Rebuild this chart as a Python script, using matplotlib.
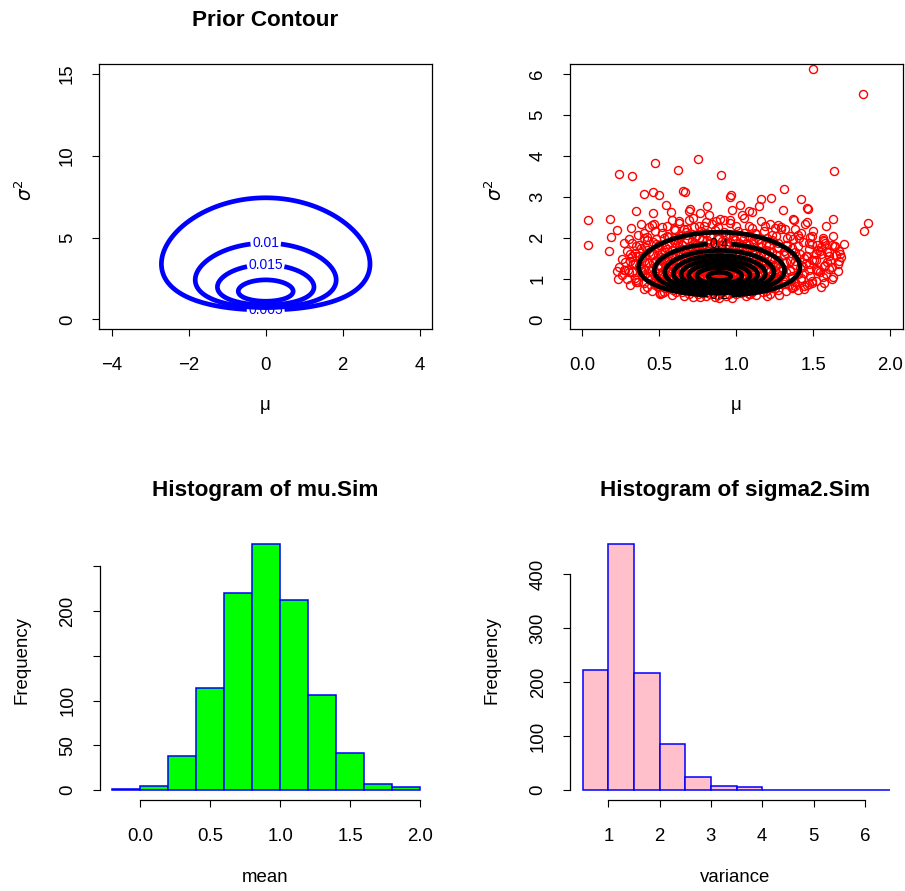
import numpy as np
import matplotlib
matplotlib.use("Agg")
import matplotlib.pyplot as plt
from math import lgamma

plt.rcParams["font.family"] = ["Liberation Sans", "DejaVu Sans"]
plt.rcParams["mathtext.fontset"] = "dejavusans"

# ---------------- data ----------------
# prior (normal-inverse-gamma) parameters
prior_mu0, prior_kappa0, prior_a0, prior_b0 = 0.0, 1.0, 0.55, 3.28
prior_levels = [0.005, 0.01, 0.015, 0.02]
prior_labelled = [0.005, 0.01, 0.015]

# posterior parameters
post_mun, post_kappan, post_an, post_bn = 0.89, 18.0, 9.0, 10.98
post_levels = [0.2, 0.4, 0.6, 0.8, 1.0, 1.2, 1.4, 1.6]

# simulated draws: outer (clearly readable) points
mu_outer = [0.474, 0.236, 0.323, 0.398, 0.457, 0.496, 0.351, 0.457, 0.037, 0.180, 0.227, 0.184,
            0.037, 0.171, 0.316, 0.268, 0.301, 0.383, 0.435, 0.466, 0.398, 0.225, 0.234, 0.294,
            0.349, 0.502, 0.323, 0.344,
            0.749, 0.619, 0.903, 0.654, 0.669, 0.968, 0.961, 0.545, 0.576, 0.697, 0.693, 0.810,
            0.762, 0.820, 1.021, 0.972, 1.037, 0.896, 0.870, 0.626, 0.690, 0.723, 0.658, 0.550,
            0.593, 0.788, 0.961, 1.080,
            1.632, 1.312, 1.225, 1.162, 1.420, 1.301, 1.461, 1.145, 1.102, 1.626, 1.582, 1.372,
            1.448, 1.249, 1.318, 1.492, 1.567, 1.188, 1.080, 1.123, 1.383, 1.405, 1.632,
            1.853, 1.831, 1.463, 1.578, 1.643, 1.665, 1.675, 1.665, 1.545, 1.600, 1.578, 1.524,
            1.492, 1.437, 1.502, 1.459, 1.524, 1.36, 1.40,
            1.50, 1.82, 0.506, 0.766, 0.885, 1.20, 1.08]
sigma2_outer = [3.82, 3.56, 3.51, 3.07, 3.12, 3.04, 2.64, 2.59, 2.42, 2.46, 2.18, 2.02,
                1.81, 1.67, 2.24, 1.87, 1.97, 2.33, 2.26, 2.34, 2.11, 1.18, 0.98, 1.22,
                0.91, 0.65, 1.54, 1.38,
                3.93, 3.66, 3.52, 3.15, 3.11, 3.04, 2.98, 2.80, 2.62, 2.70, 2.64, 2.77,
                2.60, 2.54, 2.80, 2.68, 2.55, 2.46, 2.40, 2.40, 2.44, 2.26, 2.20, 2.28,
                2.20, 2.28, 2.44, 2.64,
                3.63, 3.18, 2.96, 2.94, 2.95, 2.67, 2.72, 2.78, 2.62, 2.46, 2.28, 2.44,
                2.34, 2.23, 2.20, 2.05, 1.91, 2.28, 2.28, 2.11, 2.20, 1.99, 1.79,
                2.36, 2.15, 2.71, 1.87, 1.80, 1.67, 1.59, 1.42, 1.67, 1.54, 1.34, 1.22,
                0.88, 0.81, 1.46, 1.54, 1.83, 0.78, 0.72,
                6.13, 5.51, 0.61, 0.55, 0.53, 0.57, 0.61]

# simulated draws: dense core (estimated from the cloud)
mu_core = [
    0.52, 0.58, 0.61, 0.66, 0.69, 0.72, 0.75, 0.78, 0.80, 0.83, 0.86, 0.88, 0.90, 0.93, 0.95, 0.97, 1.00, 1.03, 1.06, 1.09, 1.13, 1.17, 1.22, 1.28,
    0.40, 0.45, 0.49, 0.53, 0.56, 0.59, 0.62, 0.65, 0.67, 0.70, 0.72, 0.74, 0.77, 0.79, 0.81, 0.83, 0.85, 0.87, 0.89, 0.91, 0.93, 0.95, 0.97, 0.99, 1.02, 1.04, 1.07, 1.10, 1.13, 1.16, 1.19, 1.23, 1.27, 1.32, 1.37, 1.44,
    0.31, 0.36, 0.40, 0.44, 0.47, 0.50, 0.53, 0.55, 0.58, 0.60, 0.62, 0.64, 0.66, 0.68, 0.70, 0.72, 0.74, 0.76, 0.78, 0.79, 0.81, 0.83, 0.84, 0.86, 0.88, 0.89, 0.91, 0.93, 0.94, 0.96, 0.98, 1.00, 1.02, 1.04, 1.06, 1.08, 1.10, 1.13, 1.15, 1.18, 1.21, 1.24, 1.27, 1.30, 1.34, 1.38, 1.42, 1.47, 1.52, 1.57,
    0.26, 0.30, 0.34, 0.38, 0.41, 0.44, 0.47, 0.50, 0.52, 0.55, 0.57, 0.59, 0.61, 0.63, 0.65, 0.67, 0.69, 0.71, 0.73, 0.75, 0.77, 0.78, 0.80, 0.82, 0.83, 0.85, 0.87, 0.88, 0.90, 0.91, 0.93, 0.95, 0.96, 0.98, 1.00, 1.02, 1.04, 1.06, 1.08, 1.10, 1.12, 1.15, 1.17, 1.20, 1.23, 1.26, 1.29, 1.32, 1.36, 1.40, 1.44, 1.48, 1.53, 1.58, 1.63,
    0.24, 0.28, 0.33, 0.37, 0.40, 0.43, 0.46, 0.49, 0.51, 0.54, 0.56, 0.58, 0.60, 0.62, 0.64, 0.66, 0.68, 0.70, 0.72, 0.74, 0.76, 0.78, 0.79, 0.81, 0.83, 0.85, 0.86, 0.88, 0.89, 0.91, 0.93, 0.94, 0.96, 0.98, 1.00, 1.01, 1.03, 1.05, 1.07, 1.09, 1.11, 1.14, 1.16, 1.19, 1.22, 1.25, 1.28, 1.31, 1.35, 1.39, 1.43, 1.47, 1.52, 1.57, 1.62,
    0.26, 0.31, 0.35, 0.39, 0.42, 0.45, 0.48, 0.51, 0.53, 0.56, 0.58, 0.60, 0.62, 0.64, 0.66, 0.68, 0.70, 0.72, 0.74, 0.76, 0.78, 0.80, 0.82, 0.84, 0.86, 0.88, 0.90, 0.92, 0.94, 0.96, 0.98, 1.00, 1.02, 1.04, 1.06, 1.08, 1.11, 1.14, 1.17, 1.20, 1.23, 1.27, 1.31, 1.35, 1.39, 1.44, 1.49, 1.55, 1.61, 1.68,
    0.29, 0.34, 0.38, 0.42, 0.46, 0.49, 0.52, 0.55, 0.58, 0.60, 0.63, 0.65, 0.67, 0.70, 0.72, 0.74, 0.77, 0.79, 0.81, 0.83, 0.86, 0.88, 0.90, 0.92, 0.95, 0.97, 0.99, 1.02, 1.04, 1.07, 1.10, 1.13, 1.16, 1.19, 1.23, 1.27, 1.31, 1.36, 1.41, 1.47, 1.53, 1.60,
    0.32, 0.37, 0.42, 0.46, 0.50, 0.53, 0.56, 0.59, 0.62, 0.65, 0.68, 0.71, 0.73, 0.76, 0.78, 0.81, 0.83, 0.86, 0.88, 0.91, 0.93, 0.96, 0.99, 1.02, 1.05, 1.08, 1.11, 1.15, 1.19, 1.23, 1.27, 1.32, 1.37, 1.43, 1.49, 1.56,
    0.36, 0.42, 0.47, 0.52, 0.56, 0.60, 0.64, 0.67, 0.71, 0.74, 0.77, 0.80, 0.83, 0.86, 0.89, 0.92, 0.95, 0.98, 1.01, 1.05, 1.09, 1.13, 1.18, 1.23, 1.29, 1.35, 1.42, 1.50,
    0.45, 0.52, 0.58, 0.63, 0.68, 0.72, 0.76, 0.80, 0.84, 0.88, 0.92, 0.96, 1.00, 1.05, 1.10, 1.16, 1.22, 1.29, 1.37, 1.46,
]
sigma2_core = [
    0.64, 0.60, 0.66, 0.58, 0.63, 0.55, 0.61, 0.65, 0.57, 0.62, 0.54, 0.60, 0.64, 0.58, 0.62, 0.53, 0.61, 0.65, 0.57, 0.63, 0.60, 0.66, 0.62, 0.59,
    0.74, 0.70, 0.79, 0.68, 0.76, 0.72, 0.80, 0.67, 0.75, 0.71, 0.78, 0.69, 0.74, 0.81, 0.68, 0.73, 0.77, 0.70, 0.79, 0.67, 0.75, 0.72, 0.80, 0.69, 0.76, 0.71, 0.78, 0.68, 0.74, 0.81, 0.70, 0.77, 0.73, 0.69, 0.79, 0.75,
    0.85, 0.92, 0.88, 0.97, 0.83, 0.95, 0.90, 0.86, 0.99, 0.93, 0.84, 0.91, 0.96, 0.87, 0.94, 0.89, 0.98, 0.85, 0.92, 0.88, 0.97, 0.83, 0.95, 0.90, 0.86, 0.99, 0.93, 0.84, 0.91, 0.96, 0.87, 0.94, 0.89, 0.98, 0.85, 0.92, 0.88, 0.97, 0.83, 0.95, 0.90, 0.86, 0.99, 0.93, 0.84, 0.91, 0.96, 0.87, 0.94, 0.89,
    1.08, 1.15, 1.02, 1.19, 1.11, 1.05, 1.17, 1.01, 1.13, 1.09, 1.18, 1.04, 1.14, 1.07, 1.20, 1.03, 1.12, 1.16, 1.06, 1.10, 1.19, 1.01, 1.14, 1.08, 1.17, 1.05, 1.11, 1.02, 1.15, 1.09, 1.19, 1.04, 1.13, 1.07, 1.16, 1.01, 1.10, 1.18, 1.06, 1.12, 1.03, 1.15, 1.09, 1.20, 1.05, 1.13, 1.08, 1.17, 1.02, 1.11, 1.14, 1.06, 1.18, 1.10, 1.04,
    1.27, 1.22, 1.35, 1.30, 1.21, 1.38, 1.25, 1.33, 1.29, 1.23, 1.36, 1.31, 1.26, 1.39, 1.22, 1.34, 1.28, 1.24, 1.37, 1.32, 1.21, 1.29, 1.35, 1.26, 1.40, 1.23, 1.31, 1.37, 1.25, 1.33, 1.28, 1.22, 1.36, 1.30, 1.24, 1.38, 1.27, 1.34, 1.21, 1.32, 1.29, 1.25, 1.37, 1.23, 1.35, 1.30, 1.26, 1.39, 1.22, 1.33, 1.28, 1.36, 1.24, 1.31, 1.27,
    1.47, 1.42, 1.55, 1.50, 1.41, 1.58, 1.45, 1.53, 1.49, 1.43, 1.56, 1.51, 1.46, 1.59, 1.42, 1.54, 1.48, 1.44, 1.57, 1.52, 1.41, 1.49, 1.55, 1.46, 1.60, 1.43, 1.51, 1.57, 1.45, 1.53, 1.48, 1.42, 1.56, 1.50, 1.44, 1.58, 1.47, 1.54, 1.41, 1.52, 1.49, 1.45, 1.57, 1.43, 1.55, 1.50, 1.46, 1.59, 1.42, 1.53,
    1.67, 1.62, 1.75, 1.70, 1.61, 1.78, 1.65, 1.73, 1.69, 1.63, 1.76, 1.71, 1.66, 1.79, 1.62, 1.74, 1.68, 1.64, 1.77, 1.72, 1.61, 1.69, 1.75, 1.66, 1.80, 1.63, 1.71, 1.77, 1.65, 1.73, 1.68, 1.62, 1.76, 1.70, 1.64, 1.78, 1.67, 1.74, 1.61, 1.72, 1.69, 1.65,
    1.87, 1.82, 1.95, 1.90, 1.81, 1.98, 1.85, 1.93, 1.89, 1.83, 1.96, 1.91, 1.86, 1.99, 1.82, 1.94, 1.88, 1.84, 1.97, 1.92, 1.81, 1.89, 1.95, 1.86, 2.00, 1.83, 1.91, 1.97, 1.85, 1.93, 1.88, 1.82, 1.96, 1.90, 1.84, 1.98,
    2.07, 2.02, 2.15, 2.10, 2.01, 2.18, 2.05, 2.13, 2.09, 2.03, 2.16, 2.11, 2.06, 2.19, 2.02, 2.14, 2.08, 2.04, 2.17, 2.12, 2.01, 2.09, 2.15, 2.06, 2.20, 2.03, 2.11, 2.17,
    2.31, 2.25, 2.42, 2.36, 2.22, 2.47, 2.29, 2.39, 2.33, 2.26, 2.44, 2.35, 2.28, 2.49, 2.23, 2.40, 2.32, 2.27, 2.45, 2.37,
]

# simulated draws: additional points filling the cloud between the rows above
mu_fill = [
    0.42, 0.48, 0.54, 0.60, 0.64, 0.68, 0.71, 0.74, 0.77, 0.80, 0.82, 0.84, 0.86, 0.88, 0.90, 0.92, 0.94, 0.96, 0.98, 1.01, 1.04, 1.07, 1.11, 1.15, 1.20, 1.25, 1.31, 1.38, 1.46, 1.55,
    0.29, 0.35, 0.42, 0.48, 0.53, 0.57, 0.61, 0.64, 0.67, 0.70, 0.73, 0.76, 0.79, 0.81, 0.84, 0.86, 0.89, 0.92, 0.94, 0.97, 0.99, 1.02, 1.05, 1.08, 1.11, 1.14, 1.18, 1.22, 1.26, 1.31, 1.36, 1.42, 1.49, 1.56, 1.62,
    0.27, 0.32, 0.38, 0.44, 0.49, 0.54, 0.58, 0.62, 0.66, 0.69, 0.72, 0.75, 0.78, 0.81, 0.84, 0.87, 0.90, 0.92, 0.95, 0.98, 1.01, 1.04, 1.07, 1.10, 1.13, 1.17, 1.21, 1.25, 1.30, 1.35, 1.41, 1.47, 1.54, 1.60, 1.66,
    0.28, 0.34, 0.40, 0.46, 0.51, 0.55, 0.59, 0.63, 0.67, 0.71, 0.74, 0.77, 0.80, 0.83, 0.86, 0.89, 0.92, 0.95, 0.98, 1.01, 1.04, 1.07, 1.10, 1.14, 1.18, 1.22, 1.27, 1.32, 1.38, 1.45, 1.52, 1.59, 1.66,
    0.31, 0.37, 0.43, 0.49, 0.54, 0.59, 0.63, 0.67, 0.71, 0.75, 0.78, 0.82, 0.85, 0.88, 0.91, 0.94, 0.97, 1.00, 1.04, 1.08, 1.12, 1.16, 1.21, 1.26, 1.32, 1.38, 1.45, 1.52, 1.59, 1.65,
    0.35, 0.41, 0.48, 0.54, 0.60, 0.65, 0.70, 0.74, 0.78, 0.82, 0.86, 0.90, 0.94, 0.98, 1.02, 1.06, 1.11, 1.16, 1.21, 1.27, 1.33, 1.40, 1.47, 1.55, 1.62, 1.70,
    0.40, 0.48, 0.55, 0.62, 0.68, 0.73, 0.78, 0.83, 0.88, 0.93, 0.98, 1.03, 1.08, 1.14, 1.20, 1.26, 1.33, 1.40, 1.48, 1.56, 1.63, 1.27,
]
sigma2_fill = [
    0.80, 0.86, 0.78, 0.84, 0.88, 0.79, 0.83, 0.87, 0.77, 0.82, 0.86, 0.80, 0.85, 0.78, 0.88, 0.81, 0.84, 0.79, 0.87, 0.82, 0.76, 0.85, 0.80, 0.88, 0.83, 0.78, 0.86, 0.81, 0.84, 0.79,
    1.00, 0.96, 1.04, 0.98, 1.06, 1.01, 0.95, 1.03, 0.99, 1.07, 0.97, 1.02, 1.05, 0.96, 1.00, 1.04, 0.98, 1.06, 1.01, 0.95, 1.03, 0.99, 1.07, 0.97, 1.02, 1.05, 0.96, 1.00, 1.04, 0.98, 1.06, 1.01, 0.95, 1.03, 0.99,
    1.20, 1.16, 1.24, 1.18, 1.26, 1.21, 1.15, 1.23, 1.19, 1.27, 1.17, 1.22, 1.25, 1.16, 1.20, 1.24, 1.18, 1.26, 1.21, 1.15, 1.23, 1.19, 1.27, 1.17, 1.22, 1.25, 1.16, 1.20, 1.24, 1.18, 1.26, 1.21, 1.15, 1.23, 1.19,
    1.40, 1.36, 1.44, 1.38, 1.46, 1.41, 1.35, 1.43, 1.39, 1.47, 1.37, 1.42, 1.45, 1.36, 1.40, 1.44, 1.38, 1.46, 1.41, 1.35, 1.43, 1.39, 1.47, 1.37, 1.42, 1.45, 1.36, 1.40, 1.44, 1.38, 1.46, 1.41, 1.35,
    1.60, 1.56, 1.64, 1.58, 1.66, 1.61, 1.55, 1.63, 1.59, 1.67, 1.57, 1.62, 1.65, 1.56, 1.60, 1.64, 1.58, 1.66, 1.61, 1.55, 1.63, 1.59, 1.67, 1.57, 1.62, 1.65, 1.56, 1.60, 1.64, 1.58,
    1.80, 1.76, 1.84, 1.78, 1.86, 1.81, 1.75, 1.83, 1.79, 1.87, 1.77, 1.82, 1.85, 1.76, 1.80, 1.84, 1.78, 1.86, 1.81, 1.75, 1.83, 1.79, 1.87, 1.77, 1.82, 1.85,
    2.00, 1.96, 2.04, 1.98, 2.06, 2.01, 1.95, 2.03, 1.99, 2.07, 1.97, 2.02, 2.05, 1.96, 2.00, 2.04, 1.98, 2.06, 2.01, 1.95, 2.03, 2.30,
]

# histogram of mu.Sim
mu_breaks = [-0.2, 0.0, 0.2, 0.4, 0.6, 0.8, 1.0, 1.2, 1.4, 1.6, 1.8, 2.0]
mu_counts = [1, 5, 38, 114, 220, 275, 212, 106, 41, 7, 3]

# histogram of sigma2.Sim
s2_breaks = [0.5, 1.0, 1.5, 2.0, 2.5, 3.0, 3.5, 4.0, 4.5, 5.0, 5.5, 6.0, 6.5]
s2_counts = [222, 456, 216, 86, 25, 7, 6, 0, 0, 0, 1, 1]

# ---------------- helpers ----------------
W, H = 905, 891
BASE = 13.4
TITLE = 16.2
fig = plt.figure(figsize=(W / 100, H / 100), dpi=100)


def px_axes(x0, y0, x1, y1):
    return fig.add_axes([x0 / W, 1 - y1 / H, (x1 - x0) / W, (y1 - y0) / H])


def ftext(x, y, s, **kw):
    fig.text(x / W, 1 - y / H, s, ha="center", va="center", **kw)


def nig_pdf(mu, s2, m, kappa, a, b):
    logp = (0.5 * np.log(kappa / (2 * np.pi * s2)) - kappa * (mu - m) ** 2 / (2 * s2)
            + a * np.log(b) - lgamma(a) - (a + 1) * np.log(s2) - b / s2)
    return np.exp(logp)


def style(ax, box=True):
    ax.tick_params(direction="out", length=5, width=0.8, labelsize=BASE, colors="black")
    ax.tick_params(axis="x", pad=15)
    ax.tick_params(axis="y", pad=12, labelrotation=90)
    for lab in ax.get_yticklabels():
        lab.set_va("center")
    for sp in ax.spines.values():
        sp.set_linewidth(0.9)
    if not box:
        ax.spines["top"].set_visible(False)
        ax.spines["right"].set_visible(False)


fmt = lambda v: f"{v:g}"

# ---------------- top-left: prior contour ----------------
ax1 = px_axes(99.4, 64, 432, 329.3)
mg = np.linspace(-4, 4, 401)
sg = np.linspace(0.02, 15, 700)
M, S = np.meshgrid(mg, sg)
Z = nig_pdf(M, S, prior_mu0, prior_kappa0, prior_a0, prior_b0)
cs1 = ax1.contour(M, S, Z, levels=prior_levels, colors="blue", linewidths=3.4)
ax1.clabel(cs1, prior_labelled, fmt=fmt, fontsize=10, inline=True, inline_spacing=3,
           manual=[(0.0, 0.45), (0.0, 4.7), (0.0, 3.2)])
ax1.set_xlim(-4.32, 4.32)
ax1.set_ylim(-0.6, 15.6)
ax1.set_xticks([-4, -2, 0, 2, 4])
ax1.set_xticklabels(["\u22124", "\u22122", "0", "2", "4"])
ax1.set_yticks([0, 5, 10, 15])
style(ax1)

# ---------------- top-right: posterior draws + contour ----------------
ax2 = px_axes(570, 64, 902.7, 329.3)
for mus, s2s in ((mu_core, sigma2_core), (mu_fill, sigma2_fill), (mu_outer, sigma2_outer)):
    ax2.plot(mus, s2s, "o", mfc="none", mec="red", ms=5.8, mew=1.0, ls="none")
mg2 = np.linspace(0, 2, 401)
sg2 = np.linspace(0.02, 6, 600)
M2, S2 = np.meshgrid(mg2, sg2)
Z2 = nig_pdf(M2, S2, post_mun, post_kappan, post_an, post_bn)
cs2 = ax2.contour(M2, S2, Z2, levels=post_levels, colors="black", linewidths=3.4)
ax2.clabel(cs2, [0.2, 0.4], fmt=fmt, fontsize=10, inline=True, inline_spacing=3,
           manual=[(0.89, 0.57), (0.89, 1.85)])
ax2.set_xlim(-0.08, 2.08)
ax2.set_ylim(-0.24, 6.24)
ax2.set_xticks([0, 0.5, 1.0, 1.5, 2.0])
ax2.set_xticklabels(["0.0", "0.5", "1.0", "1.5", "2.0"])
ax2.set_yticks([0, 1, 2, 3, 4, 5, 6])
style(ax2)

# ---------------- bottom-left: histogram of mu.Sim ----------------
ax3 = px_axes(100, 534, 432.3, 800)
ax3.bar(mu_breaks[:-1], mu_counts, width=np.diff(mu_breaks), align="edge",
        color="#00FF00", edgecolor="blue", linewidth=1.1)
ax3.set_xlim(-0.288, 2.088)
ax3.set_ylim(-11, 286)
ax3.set_xticks([0, 0.5, 1.0, 1.5, 2.0])
ax3.set_xticklabels(["0.0", "0.5", "1.0", "1.5", "2.0"])
ax3.set_yticks([0, 50, 100, 150, 200, 250])
ax3.set_yticklabels(["0", "50", "100", "", "200", ""])
style(ax3, box=False)
ax3.spines["left"].set_bounds(0, 250)
ax3.spines["bottom"].set_bounds(0, 2)

# ---------------- bottom-right: histogram of sigma2.Sim ----------------
ax4 = px_axes(570.3, 534, 902.8, 800)
ax4.bar(s2_breaks[:-1], s2_counts, width=np.diff(s2_breaks), align="edge",
        color="pink", edgecolor="blue", linewidth=1.1)
ax4.set_xlim(0.26, 6.74)
ax4.set_ylim(-18.24, 474.24)
ax4.set_xticks([1, 2, 3, 4, 5, 6])
ax4.set_yticks([0, 100, 200, 300, 400])
style(ax4, box=False)
ax4.spines["left"].set_bounds(0, 400)
ax4.spines["bottom"].set_bounds(1, 6)

# ---------------- titles and labels ----------------
ftext(265, 20, "Prior Contour", fontsize=TITLE, fontweight="bold")
ftext(265, 490, "Histogram of mu.Sim", fontsize=TITLE, fontweight="bold")
ftext(735, 490, "Histogram of sigma2.Sim", fontsize=TITLE, fontweight="bold")
ftext(265, 405, "\u03bc", fontsize=BASE)
ftext(736, 405, "\u03bc", fontsize=BASE)
ftext(25, 190, r"$\sigma^2$", fontsize=BASE, rotation=90)
ftext(495, 190, r"$\sigma^2$", fontsize=BASE, rotation=90)
ftext(265, 878, "mean", fontsize=BASE)
ftext(735, 878, "variance", fontsize=BASE)
ftext(22, 660, "Frequency", fontsize=BASE, rotation=90)
ftext(492, 660, "Frequency", fontsize=BASE, rotation=90)

fig.savefig("out.png", dpi=100)
